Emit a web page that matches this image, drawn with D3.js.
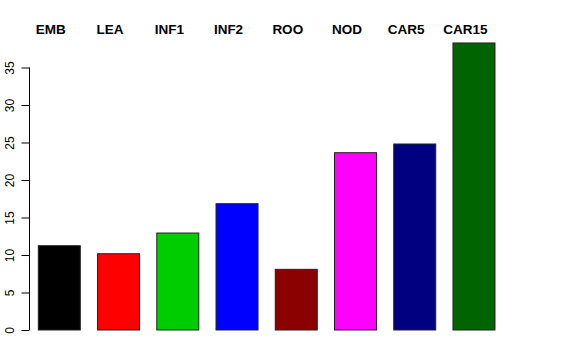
<!DOCTYPE html>
<html>
<head>
<meta charset="utf-8">
<script src="https://cdn.jsdelivr.net/npm/d3@7"></script>
<style>
  body { margin: 0; background: #fff; }
  text { font-family: "Liberation Sans", Arial, sans-serif; }
</style>
</head>
<body>
<svg id="chart" width="576" height="360"></svg>
<script>
// tissue names and values
var tissues = ["EMB", "LEA", "INF1", "INF2", "ROO", "NOD", "CAR5", "CAR15"];
var values = [11.24, 10.17, 12.93, 16.84, 8.09, 23.64, 24.8, 38.27];
var colors = ["#000000", "#ff0000", "#00cd00", "#0000ff", "#8b0000", "#ff00ff", "#000080", "#006400"];
var yTicks = [0, 5, 10, 15, 20, 25, 30, 35];

var svg = d3.select("#chart");

var x = d3.scaleBand()
	.domain(tissues)
	.range([29.68, 503.6])
	.paddingInner(0.291)
	.paddingOuter(0.1455);

var y = d3.scaleLinear()
	.domain([0, 35])
	.range([330, 67.5]);

// bars
svg.selectAll("rect.bar")
	.data(values)
	.enter()
	.append("rect")
	.attr("class", "bar")
	.attr("x", function(d, i){ return x(tissues[i]); })
	.attr("width", x.bandwidth())
	.attr("y", function(d){ return y(d); })
	.attr("height", function(d){ return y(0) - y(d); })
	.attr("fill", function(d, i){ return colors[i]; })
	.attr("stroke", "#222")
	.attr("stroke-width", 1);

// y axis
var axis = d3.axisLeft(y)
	.tickValues(yTicks)
	.tickSize(8)
	.tickFormat(d3.format("d"));

var gy = svg.append("g")
	.attr("transform", "translate(29.5,0)")
	.call(axis);

gy.select(".domain").attr("stroke", "#000").attr("d", "M0,67.5V330");
gy.selectAll(".tick line").attr("stroke", "#000");
gy.selectAll(".tick text")
	.attr("font-size", 12)
	.attr("fill", "#000")
	.attr("text-anchor", "middle")
	.attr("x", 0)
	.attr("y", 0)
	.attr("dy", 0)
	.attr("transform", "translate(-16,0) rotate(-90)");

// names above the bars
svg.selectAll("text.name")
	.data(tissues)
	.enter()
	.append("text")
	.attr("class", "name")
	.attr("x", function(d){ return x(d) + x.bandwidth() / 2 - 8.5; })
	.attr("y", 34)
	.attr("text-anchor", "middle")
	.attr("font-size", 13.5)
	.attr("font-weight", "bold")
	.text(function(d){ return d; });
</script>
</body>
</html>
